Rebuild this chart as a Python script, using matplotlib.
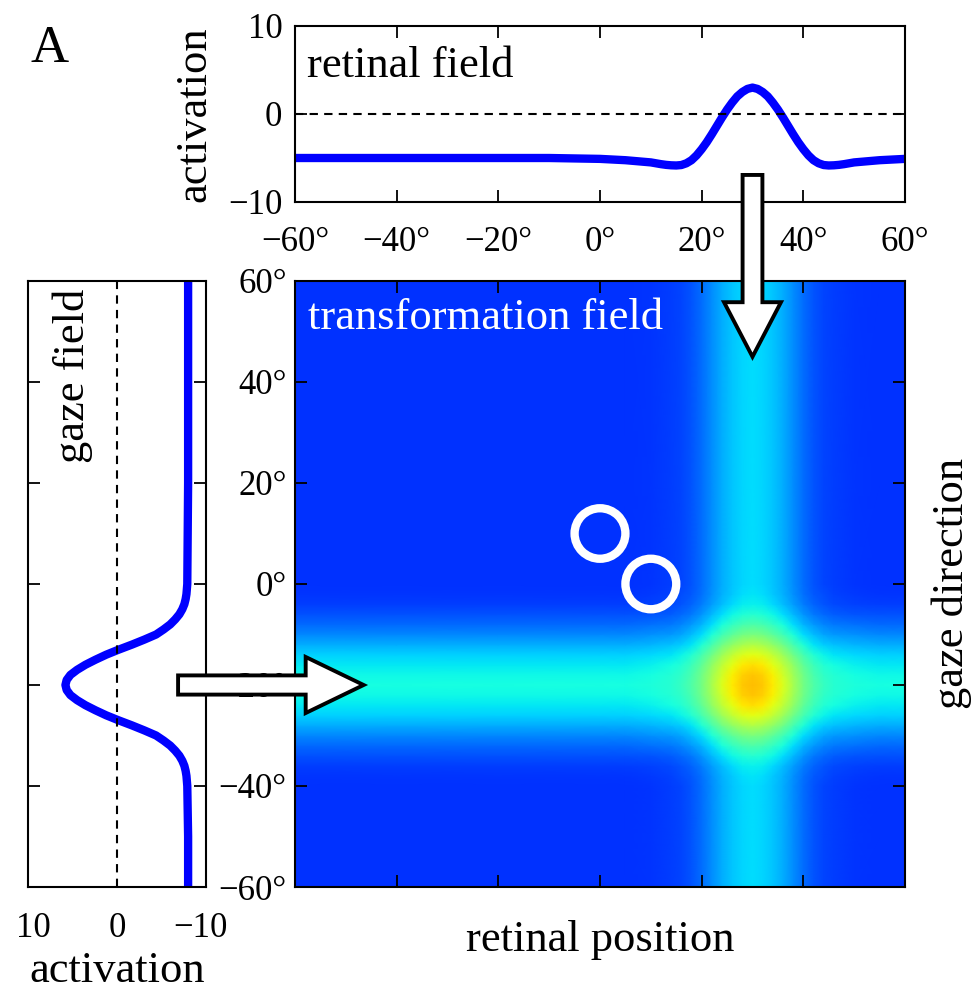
import numpy as np
import matplotlib.pyplot as plt
from matplotlib.patches import FancyArrow, Circle

plt.rcParams['font.family'] = ['Liberation Serif', 'DejaVu Serif']

## retinal field activation
retinal_x = [-60, -50, -40, -30, -20, -10, -5, 0, 5, 10, 11, 12, 13, 14, 15, 16, 17, 18, 19,
             20, 21, 22, 23, 24, 25, 26, 27, 28, 29, 30, 31, 32, 33, 34, 35, 36, 37, 38, 39,
             40, 41, 42, 43, 44, 45, 46, 47, 48, 49, 50, 55, 60]
retinal_act = [-5.0, -5.0, -5.0, -5.0, -5.0, -5.0, -5.05, -5.1, -5.25, -5.5, -5.6, -5.7, -5.78, -5.83,
               -5.85, -5.8, -5.6, -5.25, -4.7, -4.0, -3.2, -2.3, -1.35, -0.4, 0.5, 1.3, 2.0, 2.5, 2.85,
               3.0, 2.85, 2.5, 2.0, 1.3, 0.5, -0.4, -1.35, -2.3, -3.2, -4.0, -4.7, -5.25, -5.6, -5.8,
               -5.85, -5.83, -5.78, -5.7, -5.6, -5.5, -5.25, -5.1]

## gaze field activation
gaze_y = [60, 40, 20, 10, 0, -2, -3, -4, -5, -6, -7, -8, -9, -10, -11, -12, -13, -14, -15, -16,
          -17, -18, -19, -20, -21, -22, -23, -24, -25, -26, -27, -28, -29, -30, -31, -32, -33,
          -34, -35, -36, -37, -38, -40, -50, -60]
gaze_act = [-8.55, -8.55, -8.55, -8.5, -8.45, -8.35, -8.25, -8.1, -7.85, -7.5, -7.0, -6.4, -5.6,
            -4.7, -3.3, -1.8, -0.2, 1.3, 2.6, 3.8, 4.8, 5.6, 6.05, 6.2, 6.05, 5.6, 4.8, 3.8, 2.6,
            1.3, -0.2, -1.8, -3.3, -4.7, -5.6, -6.4, -7.0, -7.5, -7.85, -8.1, -8.25, -8.35,
            -8.45, -8.55, -8.55]

## transformation field: colour level of the two bands (jet scale 0..1)
tf_base = 0.175
tf_coupling = 5.1
tf_retinal_pos = [-60, -40, -20, 0, 5, 10, 14, 16, 18, 20, 22, 24, 26, 28, 30,
                  32, 34, 36, 38, 40, 42, 44, 46, 50, 55, 60]
tf_retinal_band = [0.0, 0.0, 0.0, 0.0, 0.0, 0.004, 0.011, 0.02, 0.035, 0.058, 0.088, 0.118, 0.142, 0.16, 0.166,
                   0.16, 0.142, 0.118, 0.088, 0.058, 0.035, 0.02, 0.011, 0.004, 0.0, 0.0]
tf_gaze_pos = [-60, -50, -44, -40, -38, -36, -34, -32, -30, -28, -26, -24, -22, -20,
               -18, -16, -14, -12, -10, -8, -6, -4, -2, 0, 20, 60]
tf_gaze_band = [0.0, 0.0, 0.0, 0.0, 0.004, 0.012, 0.03, 0.055, 0.085, 0.12, 0.155, 0.18, 0.195, 0.2,
                0.195, 0.18, 0.155, 0.12, 0.085, 0.055, 0.03, 0.012, 0.004, 0.0, 0.0, 0.0]

## peaks marked with rings (retinal, gaze)
ring_x = [0, 10]
ring_y = [10, 0]

deg_ticks = [-60, -40, -20, 0, 20, 40, 60]
deg_labels = ['\u221260\u00b0', '\u221240\u00b0', '\u221220\u00b0', '0\u00b0', '20\u00b0', '40\u00b0', '60\u00b0']
act_ticks = [-10, 0, 10]
act_labels = ['\u221210', '0', '10']

W, H = 971, 993
fig = plt.figure(figsize=(W / 100, H / 100), dpi=100)

def frac(left, top, right, bottom):
    return [left / W, 1 - bottom / H, (right - left) / W, (bottom - top) / H]

TICK_FS = 25
LABEL_FS = 32
BLUE = '#0000ff'

def style(ax):
    for s in ax.spines.values():
        s.set_linewidth(1.5)
    ax.tick_params(which='both', direction='in', length=8.5, width=1.3,
                   top=True, right=True, labelsize=TICK_FS)

## top: retinal field
ax_top = fig.add_axes(frac(295, 26, 905, 202))
ax_top.plot(retinal_x, retinal_act, color=BLUE, lw=6)
ax_top.axhline(0, color='black', lw=1.5, ls=(0, (4, 3)))
ax_top.set_xlim(-60, 60)
ax_top.set_ylim(-10, 10)
ax_top.set_xticks(deg_ticks)
ax_top.set_xticklabels(deg_labels)
ax_top.set_yticks(act_ticks)
ax_top.set_yticklabels(act_labels)
style(ax_top)
ax_top.tick_params(axis='x', pad=17)
ax_top.tick_params(axis='y', pad=9)
ax_top.set_ylabel('activation', fontsize=LABEL_FS, labelpad=10)
ax_top.text(-57.7, 4.2, 'retinal field', fontsize=LABEL_FS, va='baseline', ha='left')

## left: gaze field
ax_gaze = fig.add_axes(frac(28, 281, 206, 887))
ax_gaze.plot(gaze_act, gaze_y, color=BLUE, lw=6)
ax_gaze.axvline(0, color='black', lw=1.5, ls=(0, (4, 3)))
ax_gaze.set_xlim(10.7, -10.7)
ax_gaze.set_ylim(-60, 60)
ax_gaze.set_xticks(act_ticks)
ax_gaze.set_xticklabels(act_labels)
ax_gaze.set_yticks(deg_ticks)
ax_gaze.set_yticklabels([])
style(ax_gaze)
ax_gaze.tick_params(axis='x', pad=18, top=False, bottom=False)
ax_gaze.set_xlabel('activation', fontsize=LABEL_FS, labelpad=4)
ax_gaze.text(0.25, 0.987, 'gaze field', transform=ax_gaze.transAxes, fontsize=LABEL_FS,
             rotation=90, ha='center', va='top')

## main: transformation field
ax = fig.add_axes(frac(295, 281, 905, 887))
r = np.array(tf_retinal_band)
g = np.array(tf_gaze_band)
field = tf_base + r[None, :] + g[:, None] + tf_coupling * g[:, None] * r[None, :]
ax.pcolormesh(tf_retinal_pos, tf_gaze_pos, field, shading='gouraud', cmap='jet', vmin=0, vmax=1)
for cx, cy in zip(ring_x, ring_y):
    ax.add_patch(Circle((cx, cy), 5.0, fill=False, ec='white', lw=6, zorder=3))
ax.set_xlim(-60, 60)
ax.set_ylim(-60, 60)
ax.set_xticks(deg_ticks)
ax.set_xticklabels([])
ax.set_yticks(deg_ticks)
ax.set_yticklabels(deg_labels)
style(ax)
ax.tick_params(axis='y', pad=6)
ax.set_xlabel('retinal position', fontsize=LABEL_FS, labelpad=20)
ax.yaxis.set_label_position('right')
ax.set_ylabel('gaze direction', fontsize=LABEL_FS, labelpad=19)
ax.text(-57.4, 50.5, 'transformation field', color='white', fontsize=LABEL_FS,
        va='baseline', ha='left')

## arrows from the input fields into the transformation field
arrow_kw = dict(length_includes_head=True, fc='white', ec='black', lw=2.8,
                clip_on=False, zorder=5, joinstyle='miter')
ax.add_patch(FancyArrow(30, 81, 0, 45 - 81, width=3.9, head_width=11.2, head_length=10.8, **arrow_kw))
ax.add_patch(FancyArrow(-83, -20, -46.5 + 83, 0, width=3.8, head_width=11.1, head_length=11.4, **arrow_kw))

fig.text(30 / W, 1 - 62 / H, 'A', fontsize=38, va='baseline', ha='left')

fig.savefig('out.png', dpi=100)
